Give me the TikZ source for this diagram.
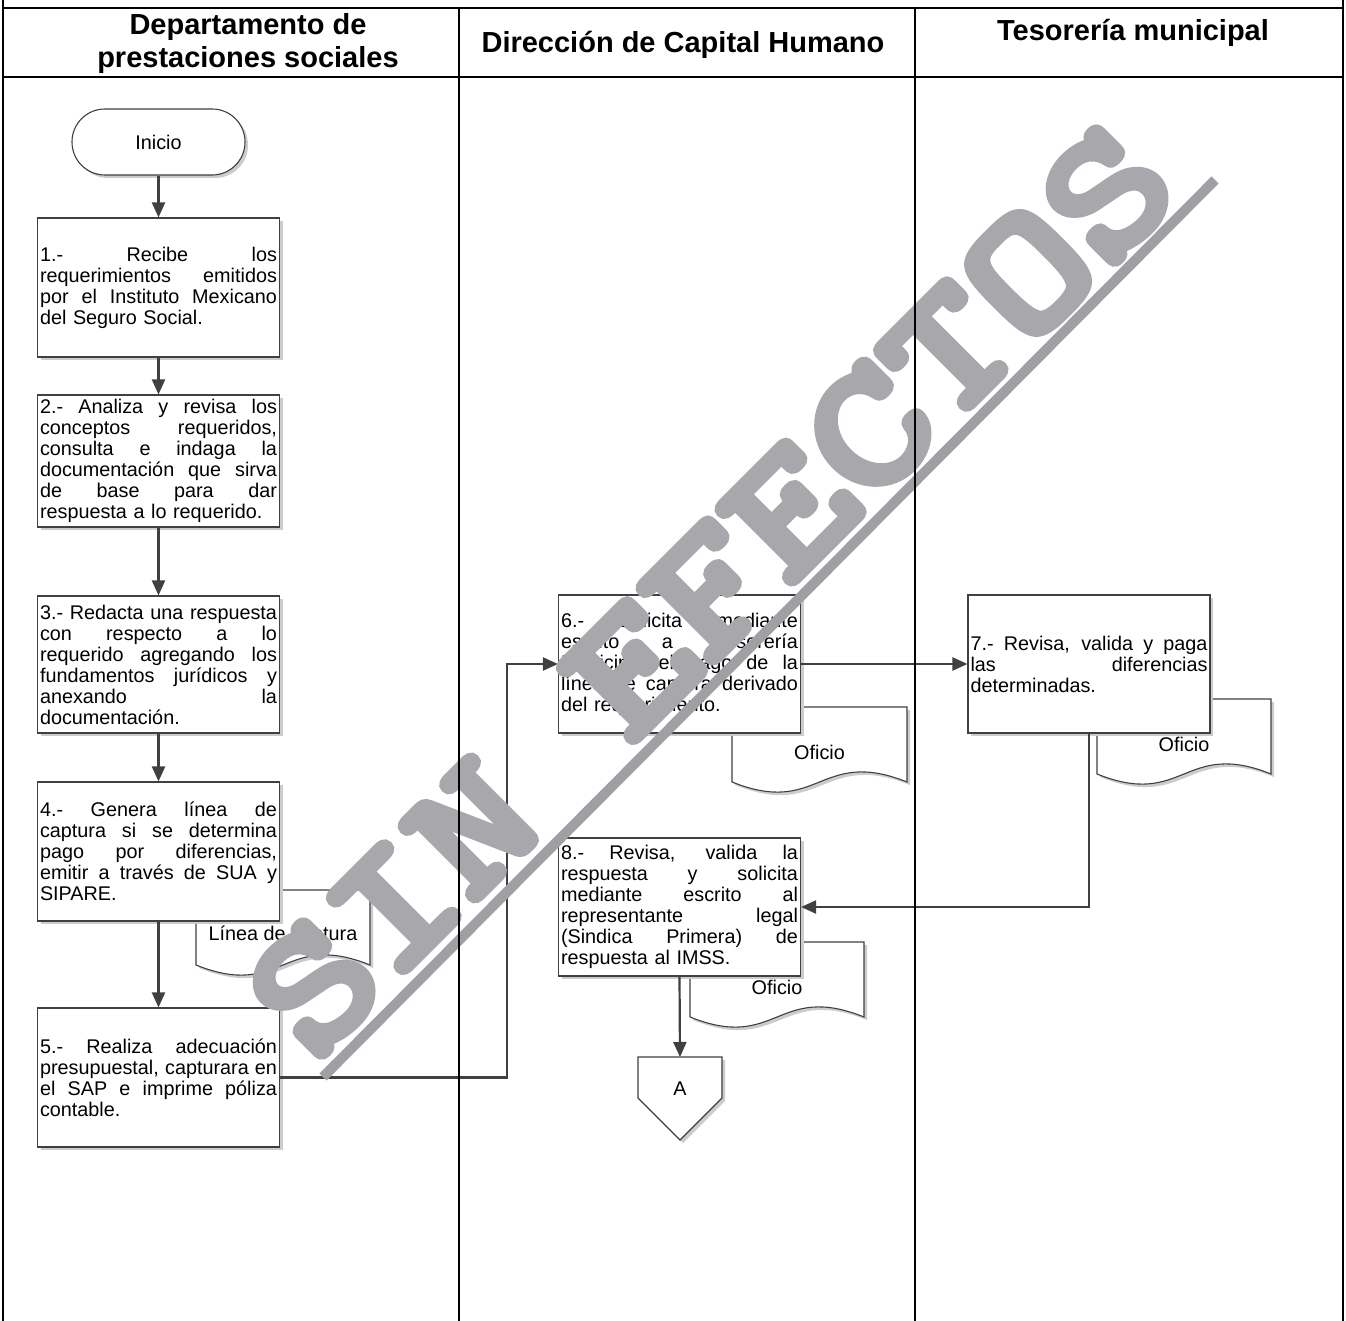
\documentclass[tikz,border=0pt]{standalone}
\usepackage{fontspec}
\setmainfont{Liberation Sans}
\newfontfamily\wmfont{lmmonolt10-bold.otf}[FakeBold=4]
\usetikzlibrary{arrows.meta,shadows}
\definecolor{edge}{HTML}{404040}
\definecolor{wmgray}{HTML}{A8A8AC}
\definecolor{wmrule}{HTML}{A0A0A4}
% one justified line of a process box
\newcommand\jl[1]{{\spaceskip=0.278em plus 1fil\relax\makebox[237pt][s]{#1}}}
% document symbol: name, left x, top y, width, caption
\newcommand\docshape[5]{%
  \begin{scope}[shift={(#2,#3)}]
    \draw[docline] (0,0) -- (#4,0) -- (#4,75)
      .. controls ({0.5*#4},40) and ({0.5*#4},110) .. (0,75) -- cycle;
    \node[doctext] (#1) at ({0.5*#4},45) {#5};
  \end{scope}}

\begin{document}
\begin{tikzpicture}[x=1pt,y=-1pt,
  lane/.style={line width=2pt,black},
  head/.style={font=\fontsize{29}{33}\selectfont\bfseries,align=center,inner sep=0pt},
  shade/.style={drop shadow={shadow xshift=3pt,shadow yshift=-3pt,fill=black!20,opacity=1}},
  stepbox/.style={draw=edge,line width=1.1pt,fill=white,shade,
    minimum width=242pt,inner sep=2pt,text width=237pt,align=left,
    font=\fontsize{19.8}{21}\selectfont},
  startbox/.style={draw=edge,line width=1.1pt,fill=white,shade,rounded corners=32.9pt,
    minimum width=173pt,minimum height=66pt,font=\fontsize{19.8}{21}\selectfont},
  docline/.style={draw=edge,line width=1.1pt,fill=white,shade},
  doctext/.style={font=\fontsize{19.8}{21}\selectfont,inner sep=0pt},
  flow/.style={draw=edge,line width=2.2pt,-{Triangle[length=15pt,width=13pt]}},
  wmtext/.style={font=\wmfont\fontsize{178}{178}\selectfont,text=wmgray,inner sep=0pt}
]
\useasboundingbox (0,0) rectangle (1346,1321);
\fill[white] (0,0) rectangle (1346,1321);

% documents (drawn first, partly hidden under the process boxes)
\docshape{d4}{196}{890}{174}{Línea de captura}
\docshape{d6}{732}{707}{175}{Oficio}
\docshape{d7}{1097}{699}{174}{Oficio}
\docshape{d8}{690}{942}{174}{Oficio}

% start terminator
\node[startbox] (ini) at (158.5,142) {Inicio};

% process boxes
\node[stepbox,minimum height=139pt] (b1) at (158.5,287.5) {%
\jl{1.- Recibe los}\\
\jl{requerimientos emitidos}\\
\jl{por el Instituto Mexicano}\\
del Seguro Social.};

\node[stepbox,minimum height=132pt] (b2) at (158.5,461) {%
\jl{2.- Analiza y revisa los}\\
\jl{conceptos requeridos,}\\
\jl{consulta e indaga la}\\
\jl{documentación que sirva}\\
\jl{de base para dar}\\
respuesta a lo requerido.};

\node[stepbox,minimum height=137pt] (b3) at (158.5,664.5) {%
\jl{3.- Redacta una respuesta}\\
\jl{con respecto a lo}\\
\jl{requerido agregando los}\\
\jl{fundamentos jurídicos y}\\
\jl{anexando la}\\
documentación.};

\node[stepbox,minimum height=139pt] (b4) at (158.5,851.5) {%
\jl{4.- Genera línea de}\\
\jl{captura si se determina}\\
\jl{pago por diferencias,}\\
\jl{emitir a través de SUA y}\\
SIPARE.};

\node[stepbox,minimum height=139pt] (b5) at (158.5,1077.5) {%
\jl{5.- Realiza adecuación}\\
\jl{presupuestal, capturara en}\\
\jl{el SAP e imprime póliza}\\
contable.};

\node[stepbox,minimum height=138pt] (b6) at (679.5,664) {%
\jl{6.- Solicita mediante}\\
\jl{escrito a Tesorería}\\
\jl{Municipal el pago de la}\\
\jl{línea de captura derivado}\\
del requerimiento.};

\node[stepbox,minimum height=138pt] (b7) at (1089,664) {%
\jl{7.- Revisa, valida y paga}\\
\jl{las diferencias}\\
determinadas.};

\node[stepbox,minimum height=138pt] (b8) at (679.5,907) {%
\jl{8.- Revisa, valida la}\\
\jl{respuesta y solicita}\\
\jl{mediante escrito al}\\
\jl{representante legal}\\
\jl{(Sindica Primera) de}\\
respuesta al IMSS.};

% off-page connector
\draw[docline] (638,1057) -- (722,1057) -- (722,1098) -- (680,1140) -- (638,1098) -- cycle;
\node[doctext] (offA) at (680,1089) {A};
\coordinate (offAtop) at (680,1057);

% connectors
\draw[flow] (ini) -- (b1);
\draw[flow] (b1) -- (b2);
\draw[flow] (b2) -- (b3);
\draw[flow] (b3) -- (b4);
\draw[flow] (b4) -- (b5);
\coordinate (j56) at (507,870);
\draw[flow] (b5.east) -| (j56) |- (b6.west);
\draw[flow] (b6.east) -- (b7.west);
\draw[flow] (b7.south) |- (b8.east);
\draw[flow] (b8.south) -- (offAtop);

% watermark: rule and heavy diagonal lettering
\coordinate (wm1) at (323,1077);
\coordinate (wm2) at (1215,180);
\draw[wmrule,line width=10pt] (wm1) -- (wm2);
\node[wmtext,rotate=45,xscale=1.2] (wm) at (711,590) {SIN EFECTOS};

% swimlane frame and header
\draw[lane] (3,0) -- (3,1321);
\draw[lane] (1343,0) -- (1343,1321);
\draw[lane] (3,8) -- (1343,8);
\draw[lane] (3,77) -- (1343,77);
\draw[lane] (459,8) -- (459,1321);
\draw[lane] (915,8) -- (915,1321);

\node[head] (h1) at (248,43.5) {Departamento de\\prestaciones sociales};
\node[head] (h2) at (683,45) {Dirección de Capital Humano};
\node[head] (h3) at (1133,33) {Tesorería municipal};
\end{tikzpicture}
\end{document}
